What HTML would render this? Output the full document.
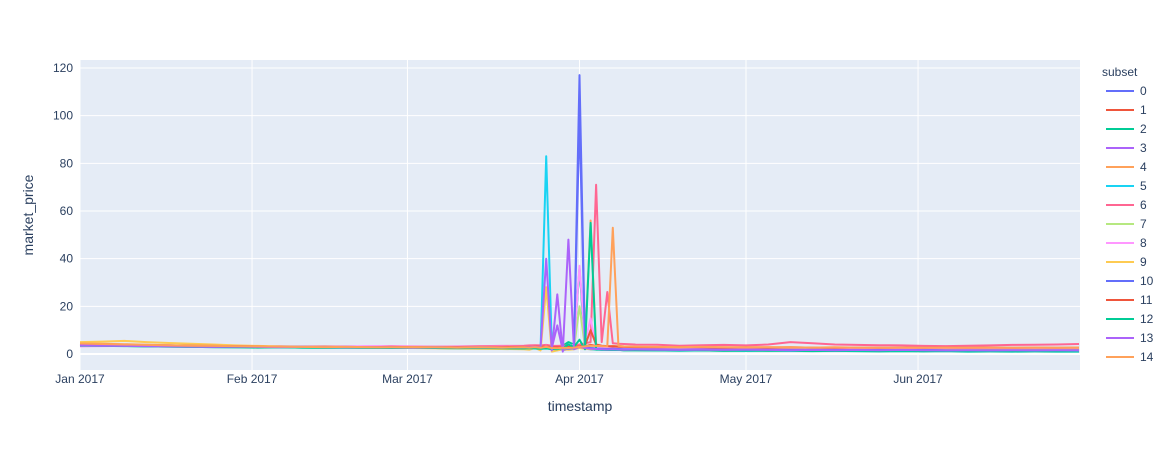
<!DOCTYPE html>
<html><head><meta charset="utf-8"><style>
body{margin:0;background:#fff;font-family:"Liberation Sans",Arial,sans-serif}
svg text{font-family:"Liberation Sans",Arial,sans-serif;fill:#2a3f5f}
</style></head><body>
<svg id="chart" width="1172" height="450" xmlns="http://www.w3.org/2000/svg">
<rect x="80" y="60" width="1000" height="310" fill="#E5ECF6"/>
<g id="grid"></g><g id="series"></g><g id="axes"></g><g id="legend"></g>
<text x="580" y="411" font-size="14" text-anchor="middle">timestamp</text>
<text transform="translate(33,215) rotate(-90)" font-size="14" text-anchor="middle">market_price</text>
</svg>
<script>
const days=[0,4,8,12,16,20,24,28,32,36,40,44,48,52,56,60,64,68,72,76,
80,81,82,83,84,85,86,87,88,89,90,91,92,93,94,95,96,97,98,
100,104,108,112,116,120,124,128,132,136,140,144,148,152,156,160,164,168,172,176,180];
const seriesNames=["0","1","2","3","4","5","6","7","8","9","10","11","12","13","14"];
const colors=["#636efa","#EF553B","#00cc96","#ab63fa","#FFA15A","#19d3f3","#FF6692","#B6E880","#FF97FF","#FECB52","#636efa","#EF553B","#00cc96","#ab63fa","#FFA15A"];
const s0=[4.2,4.0,3.8,3.5,3.6,3.4,3.3,3.2,3.1,3.0,3.1,3.0,2.9,3.0,2.9,2.8,2.9,2.8,2.7,2.8, 2.8,2.7,2.9,2.6,2.5,2.3,2.2,2.0,2.1,2.3,117,3.0,2.4,2.2,2.1,2.3,2.2,2.1,2.0, 2.0,1.9,1.8,1.9,1.8,1.7,1.8,1.7,1.6,1.7,1.6,1.5,1.6,1.5,1.6,1.5,1.6,1.5,1.4,1.5,1.5];
const s1=[4.0,3.9,3.7,3.6,3.4,3.3,3.2,3.3,3.1,3.0,2.9,3.0,2.9,2.8,2.9,2.8,2.7,2.8,2.9,2.8, 2.9,3.0,3.1,2.9,3.0,2.8,2.6,2.5,2.7,3.0,3.5,3.2,3.8,3.4,3.1,3.0,2.9,2.8,2.9, 2.8,2.7,2.6,2.7,2.6,2.5,2.6,2.5,2.4,2.5,2.4,2.5,2.4,2.3,2.4,2.3,2.4,2.3,2.4,2.3,2.4];
const s2=[3.6,3.5,3.4,3.2,3.1,3.0,2.9,2.8,2.9,2.8,2.7,2.6,2.7,2.6,2.5,2.6,2.5,2.4,2.5,2.4, 2.4,2.3,2.4,2.2,2.3,2.1,2.0,3.5,5.0,4.0,36,3.0,2.0,1.8,1.9,1.7,1.8,1.7,1.6, 1.6,1.5,1.4,1.5,1.4,1.3,1.4,1.3,1.2,1.3,1.2,1.1,1.2,1.1,1.2,1.0,1.1,1.0,1.1,1.0,1.0];
const s3=[3.8,3.7,3.6,3.5,3.4,3.3,3.2,3.1,3.0,3.1,3.0,2.9,3.0,2.9,2.8,2.9,2.8,2.9,3.0,2.9, 3.0,3.1,3.2,3.0,3.3,2.5,12,1.5,2.0,2.5,3.0,2.5,2.0,2.2,2.0,2.1,2.0,1.9,2.0, 1.9,1.8,1.9,1.8,1.7,1.8,1.7,1.8,1.7,1.6,1.7,1.6,1.7,1.6,1.5,1.6,1.5,1.6,1.5,1.6,1.5];
const s4=[4.5,4.3,4.1,3.9,3.7,3.5,3.3,3.2,3.1,3.0,2.9,2.8,2.7,2.6,2.5,2.6,2.5,2.4,2.5,2.4, 2.5,2.4,2.6,2.3,2.5,2.2,2.0,2.3,2.5,2.4,3.0,3.5,56,3.5,3.2,3.0,3.4,3.2,3.0, 2.9,2.8,2.7,2.8,2.7,2.6,2.7,2.6,2.5,2.6,2.5,2.4,2.5,2.4,2.5,2.4,2.5,2.4,2.3,2.4,2.4];
const s5=[3.9,3.8,3.6,3.5,3.3,3.2,3.1,3.0,2.9,2.8,2.9,2.8,2.7,2.8,2.7,2.6,2.7,2.6,2.5,2.6, 2.6,2.5,2.7,2.6,83,3.0,2.0,1.8,2.0,2.5,2.8,2.2,2.0,1.9,1.8,1.9,1.8,1.7,1.8, 1.7,1.6,1.5,1.6,1.5,1.4,1.5,1.4,1.5,1.4,1.3,1.4,1.3,1.4,1.3,1.2,1.3,1.2,1.3,1.2,1.2];
const s6=[3.3,3.4,3.5,3.4,3.3,3.2,3.3,3.2,3.1,3.2,3.1,3.0,3.1,3.2,3.3,3.2,3.1,3.2,3.3,3.4, 3.5,3.6,3.7,3.6,3.8,3.5,3.4,3.5,3.6,3.4,4.0,4.5,5.0,71,5.0,26,4.5,4.3,4.2, 4.0,3.9,3.5,3.7,3.8,3.6,4.0,5.0,4.5,4.0,3.8,3.7,3.6,3.4,3.3,3.5,3.6,3.8,3.9,4.0,4.2];
const s7=[3.7,3.6,3.5,3.4,3.3,3.2,3.1,3.0,2.9,3.0,2.9,2.8,2.7,2.8,2.7,2.6,2.7,2.6,2.5,2.6, 2.5,2.4,2.6,2.4,2.5,2.3,2.2,2.4,2.3,2.5,20,3.0,2.5,2.4,2.3,2.2,2.3,2.2,2.1, 2.1,2.0,2.1,2.0,1.9,2.0,1.9,2.0,1.9,2.0,1.9,1.8,1.9,1.8,1.9,1.8,1.9,1.8,1.9,1.8,1.9];
const s8=[3.2,3.3,3.4,3.5,3.6,3.5,3.4,3.3,3.2,3.1,3.0,3.1,3.2,3.3,3.2,3.1,3.0,3.1,3.0,3.1, 3.0,2.9,3.1,2.5,3.5,2.0,1.5,2.0,2.5,4.0,37,5.0,15,3.0,2.5,2.4,2.3,2.2,2.3, 2.2,2.1,2.2,2.1,2.0,2.1,2.0,2.1,2.0,1.9,2.0,1.9,2.0,1.9,2.0,1.9,2.0,1.9,2.0,1.9,2.0];
const s9=[5.0,5.2,5.5,5.0,4.6,4.3,4.0,3.6,3.4,3.2,3.0,2.9,2.8,2.7,2.6,2.5,2.4,2.3,2.2,2.1, 2.0,1.8,2.5,1.5,28,1.0,1.5,2.0,1.8,2.0,2.5,2.2,2.0,2.1,2.0,1.9,2.0,1.9,1.8, 1.9,1.8,1.9,1.8,1.7,1.8,1.7,1.8,1.7,1.6,1.7,1.6,1.7,1.6,1.7,1.6,1.7,1.6,1.7,1.6,1.7];
const s10=[4.1,3.9,3.7,3.6,3.5,3.4,3.2,3.1,3.0,3.1,3.0,2.9,3.0,2.9,2.8,2.9,2.8,2.7,2.8,2.7, 2.8,2.9,2.8,2.7,2.6,2.5,2.4,2.3,2.2,2.4,100,3.0,2.5,2.3,2.2,2.1,2.2,2.1,2.0, 2.0,1.9,1.8,1.9,1.8,1.7,1.8,1.7,1.8,1.7,1.6,1.7,1.6,1.7,1.6,1.5,1.6,1.5,1.6,1.5,1.6];
const s11=[4.3,4.1,3.9,3.7,3.6,3.5,3.4,3.3,3.2,3.1,3.0,3.1,3.0,2.9,3.0,2.9,2.8,2.9,2.8,2.9, 3.0,2.9,3.1,3.0,3.2,2.9,2.8,2.7,2.9,3.0,3.2,3.5,10,4.0,3.5,3.3,3.2,3.1,3.0, 2.9,2.8,2.9,2.8,2.7,2.8,2.7,2.8,2.7,2.6,2.7,2.6,2.7,2.6,2.7,2.6,2.7,2.6,2.7,2.6,2.7];
const s12=[3.5,3.4,3.3,3.2,3.1,3.0,2.9,2.8,2.7,2.8,2.7,2.6,2.7,2.6,2.5,2.6,2.5,2.4,2.5,2.4, 2.3,2.4,2.3,2.2,2.4,2.1,2.0,2.5,4.0,3.0,6.0,2.0,55,2.0,1.8,1.7,1.8,1.7,1.6, 1.6,1.5,1.6,1.5,1.4,1.5,1.4,1.5,1.4,1.3,1.4,1.3,1.4,1.3,1.4,1.3,1.4,1.3,1.4,1.3,1.4];
const s13=[3.6,3.5,3.4,3.3,3.2,3.1,3.0,3.1,3.0,2.9,3.0,2.9,2.8,2.9,2.8,2.7,2.8,2.7,2.8,2.7, 2.8,2.9,3.0,2.8,40,1.5,25,1.0,48,2.0,3.0,2.5,2.2,2.1,2.0,1.9,2.0,1.9,1.8, 1.9,1.8,1.7,1.8,1.7,1.8,1.7,1.6,1.7,1.6,1.7,1.6,1.7,1.6,1.5,1.6,1.5,1.6,1.5,1.6,1.5];
const s14=[4.4,4.2,4.0,3.8,3.6,3.5,3.4,3.3,3.2,3.1,3.0,2.9,3.0,2.9,2.8,2.9,2.8,2.7,2.8,2.7, 2.8,2.7,2.9,2.6,3.0,2.5,2.4,2.6,2.5,2.7,3.0,3.2,3.5,3.4,3.3,3.2,53,3.5,3.2, 3.1,3.0,2.9,3.0,2.9,2.8,2.9,2.8,2.7,2.8,2.7,2.6,2.7,2.6,2.7,2.6,2.7,2.6,2.7,2.6,2.7];
const allSeries=[s0,s1,s2,s3,s4,s5,s6,s7,s8,s9,s10,s11,s12,s13,s14];
const yTicks=[0,20,40,60,80,100,120];
const xTickDays=[0,31,59,90,120,151];
const xTickLabels=["Jan 2017","Feb 2017","Mar 2017","Apr 2017","May 2017","Jun 2017"];

const NS="http://www.w3.org/2000/svg";
const x=d=>80+d*5.55;
const y=v=>354-v*(286/120);
function mk(tag,attrs,parent){const e=document.createElementNS(NS,tag);for(const k in attrs)e.setAttribute(k,attrs[k]);parent.appendChild(e);return e;}
const grid=document.getElementById('grid'),axes=document.getElementById('axes'),ser=document.getElementById('series'),leg=document.getElementById('legend');
yTicks.forEach(t=>{
  const l=mk('line',{x1:80,x2:1080,y1:y(t),y2:y(t),stroke:'#fff','stroke-width':t===0?2:1},grid);
  
  
  const tx=mk('text',{x:79-6,y:y(t)+4,'font-size':12,'text-anchor':'end'},axes);
  tx.textContent=t;
  
  
});
xTickDays.forEach((d,i)=>{
  const l=mk('line',{x1:x(d),x2:x(d),y1:60,y2:370,stroke:'#fff','stroke-width':1},grid);
  
  
  const tx=mk('text',{x:x(d),y:383,'font-size':12,'text-anchor':'middle'},axes);
  tx.textContent=xTickLabels[i];
  
  
});
allSeries.forEach((s,i)=>{
  const p=mk('polyline',{points:s.map((v,j)=>x(days[j]).toFixed(1)+','+y(v).toFixed(1)).join(' '),fill:'none',stroke:colors[i],'stroke-width':2,'stroke-linejoin':'round'},ser);
  
  
});
const lt=mk('text',{x:1102,y:76,'font-size':12},leg);
lt.textContent='subset';


seriesNames.forEach((n,i)=>{
  const g=mk('g',{},leg);
  
  
  const yy=91+i*19;
  mk('line',{x1:1106,x2:1134,y1:yy,y2:yy,stroke:colors[i],'stroke-width':2},g);
  const t=mk('text',{x:1140,y:yy+4,'font-size':12},g);
  t.textContent=n;
});
</script>
</body></html>
